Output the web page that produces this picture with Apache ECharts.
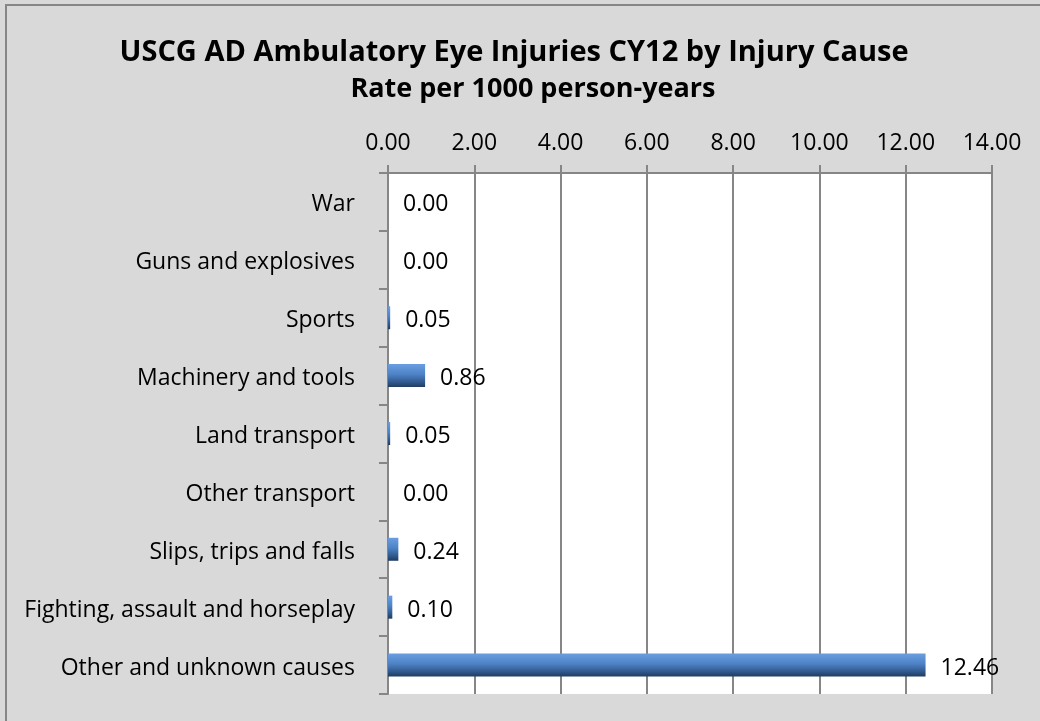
<!DOCTYPE html>
<html><head><meta charset="utf-8">
<script src="https://cdn.jsdelivr.net/npm/echarts@6/dist/echarts.min.js"></script>
<style>
html,body{margin:0;padding:0;background:#d9d9d9;width:1040px;height:721px;overflow:hidden;}
#frame{position:absolute;left:5px;top:4px;width:1100px;height:800px;border-left:2px solid #868686;border-top:2px solid #868686;box-sizing:border-box;}
#c{position:absolute;left:0;top:0;width:1040px;height:721px;}
</style></head>
<body>
<div id="frame"></div>
<div id="c"></div>
<script>
const titleLines = ['USCG AD Ambulatory Eye Injuries CY12 by Injury Cause', 'Rate per 1000 person-years'];
const categories = ['War','Guns and explosives','Sports','Machinery and tools','Land transport','Other transport','Slips, trips and falls','Fighting, assault and horseplay','Other and unknown causes'];
const rates = [0.00, 0.00, 0.05, 0.86, 0.05, 0.00, 0.24, 0.10, 12.46];
const axisMin = 0, axisMax = 14, axisStep = 2;

const FONT = 'Open Sans';
const chart = echarts.init(document.getElementById('c'), null, {renderer:'canvas'});
chart.setOption({
  backgroundColor: 'transparent',
  animation: false,
  title: [{
    text: titleLines[0],
    left: 509, textAlign: 'center', top: 28,
    textStyle: {fontFamily: FONT, fontWeight: 'bold', fontSize: 29, lineHeight: 40, color: '#000'}
  }, {
    text: titleLines[1],
    left: 528, textAlign: 'center', top: 64,
    textStyle: {fontFamily: FONT, fontWeight: 'bold', fontSize: 27, lineHeight: 40, color: '#000'}
  }],
  grid: {left: 388, right: 48, top: 173, bottom: 27, containLabel: false,
         show: true, backgroundColor: '#ffffff', borderWidth: 0},
  xAxis: {
    type: 'value', position: 'top', min: axisMin, max: axisMax, interval: axisStep,
    axisLine: {show: true, lineStyle: {color: '#868686', width: 2}},
    axisTick: {show: true, length: 8, inside: false, lineStyle: {color: '#868686', width: 2}},
    axisLabel: {margin: 18, fontFamily: FONT, fontSize: 23, color: '#000', formatter: v => v.toFixed(2)},
    splitLine: {show: true, lineStyle: {color: '#868686', width: 2}}
  },
  yAxis: {
    type: 'category', data: categories, inverse: true,
    axisLine: {show: true, lineStyle: {color: '#868686', width: 2}},
    axisTick: {show: true, length: 9, alignWithLabel: false, lineStyle: {color: '#868686', width: 2}},
    axisLabel: {margin: 33, color: '#000', formatter: v => '{a|' + v + '}',
      rich: {a: {fontFamily: FONT, fontSize: 23, color: '#000', padding: [6, 0, 0, 0]}}},
    splitLine: {show: false}
  },
  series: [{
    type: 'bar', data: rates, barWidth: 23,
    itemStyle: {color: new echarts.graphic.LinearGradient(0,0,0,1,[
      {offset:0, color:'#6a9ee0'},{offset:0.45, color:'#4d82c6'},{offset:0.8, color:'#2f5789'},{offset:1, color:'#1f3b60'}])},
    label: {show: true, position: 'right', distance: 15, offset: [0, 3], fontFamily: FONT, fontSize: 23, color: '#000',
            formatter: p => p.value.toFixed(2)}
  }]
});
</script>
</body></html>
